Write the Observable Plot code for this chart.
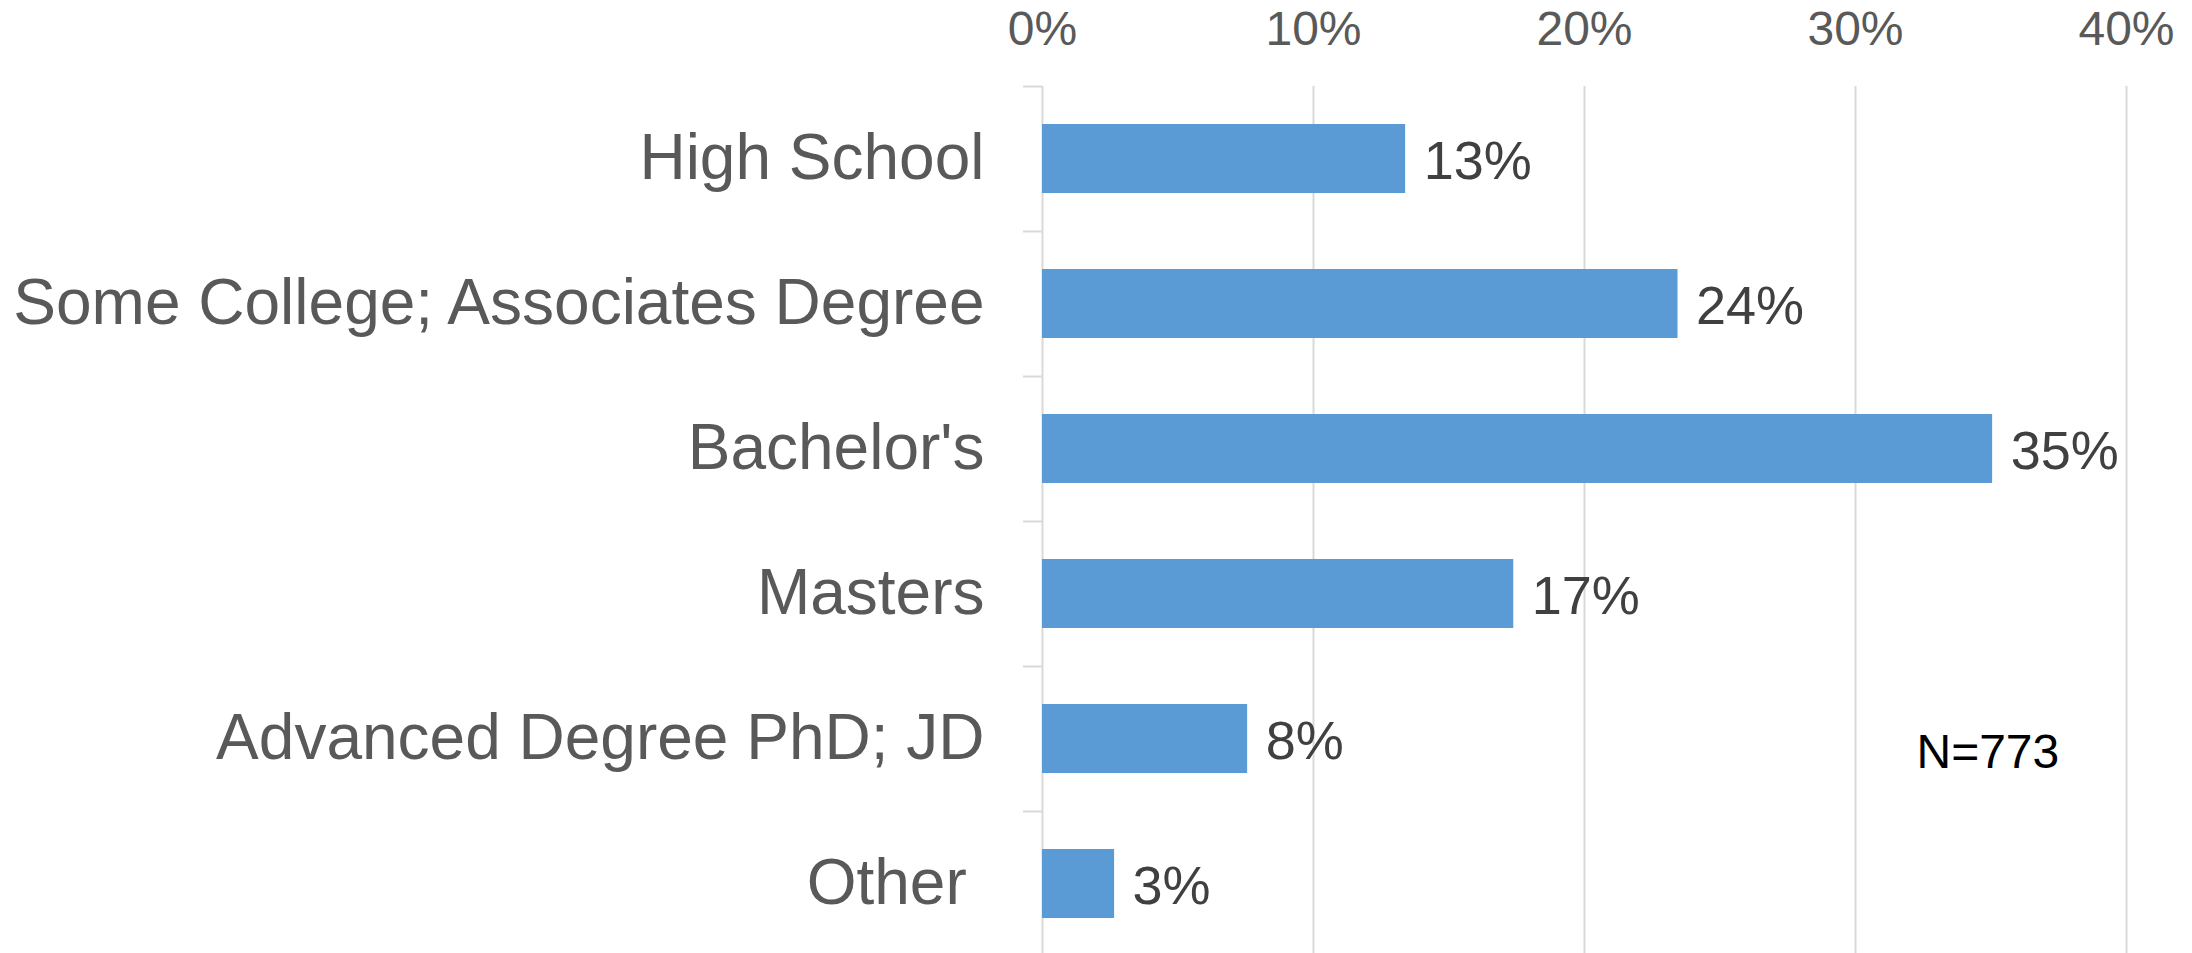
<!DOCTYPE html>
<html><head><meta charset="utf-8">
<script src="https://cdn.jsdelivr.net/npm/d3@7"></script>
<script src="https://cdn.jsdelivr.net/npm/@observablehq/plot@0.6"></script>
<style>body{margin:0;background:#fff;}</style>
</head><body><div id="chart"></div>
<script>
const categories = ["High School", "Some College; Associates Degree", "Bachelor's", "Masters", "Advanced Degree PhD; JD", "Other "];
const shares = [0.134, 0.2345, 0.3506, 0.1739, 0.0757, 0.0266];
const valueLabels = ["13%", "24%", "35%", "17%", "8%", "3%"];
const xTicks = [0, 0.1, 0.2, 0.3, 0.4];
const xTickLabels = ["0%", "10%", "20%", "30%", "40%"];
const note = "N=773";

const data = categories.map((c, i) => ({category: c, share: shares[i], label: valueLabels[i]}));
const font = '"Liberation Sans", Arial, sans-serif';

const chart = Plot.plot({
  width: 2192, height: 953,
  marginLeft: 1042, marginRight: 66, marginTop: 86, marginBottom: 0,
  style: {fontFamily: font, background: "#fff", overflow: "visible"},
  x: {domain: [0, 0.4], label: null},
  y: {domain: categories, range: [86, 956], paddingInner: 0.524, paddingOuter: 0.262, label: null},
  marks: [
    Plot.ruleX(xTicks.slice(1), {stroke: "#D9D9D9", strokeWidth: 2}),
    Plot.ruleX([0], {stroke: "#D9D9D9", strokeWidth: 2}),
    Plot.ruleY(categories, {y: d => d, dy: -72.5, x1: -0.007, x2: 0, stroke: "#D9D9D9", strokeWidth: 2}),
    Plot.barX(data, {y: "category", x: "share", fill: "#5B9BD5"}),
    Plot.text(data, {y: "category", x: "share", text: "label", textAnchor: "start", dx: 18, lineAnchor: "bottom", dy: 19.5, fontSize: 54, fill: "#404040"}),
    Plot.axisX(xTicks, {anchor: "top", tickSize: 0, tickPadding: 41.7, tickFormat: d => xTickLabels[xTicks.indexOf(d)], fontSize: 48, fill: "#595959", label: null}),
    Plot.axisY({tickSize: 0, tickPadding: 58, fontSize: 64, fill: "#595959", tickFormat: d => d.replace(/ $/, "\u00a0"), label: null}),
    Plot.text([note], {x: () => 0.3225, y: () => categories[4], text: d => d, textAnchor: "start", lineAnchor: "bottom", dy: 28.5, fontSize: 48, fill: "#000"})
  ]
});
document.getElementById("chart").appendChild(chart);
</script>
</body></html>
